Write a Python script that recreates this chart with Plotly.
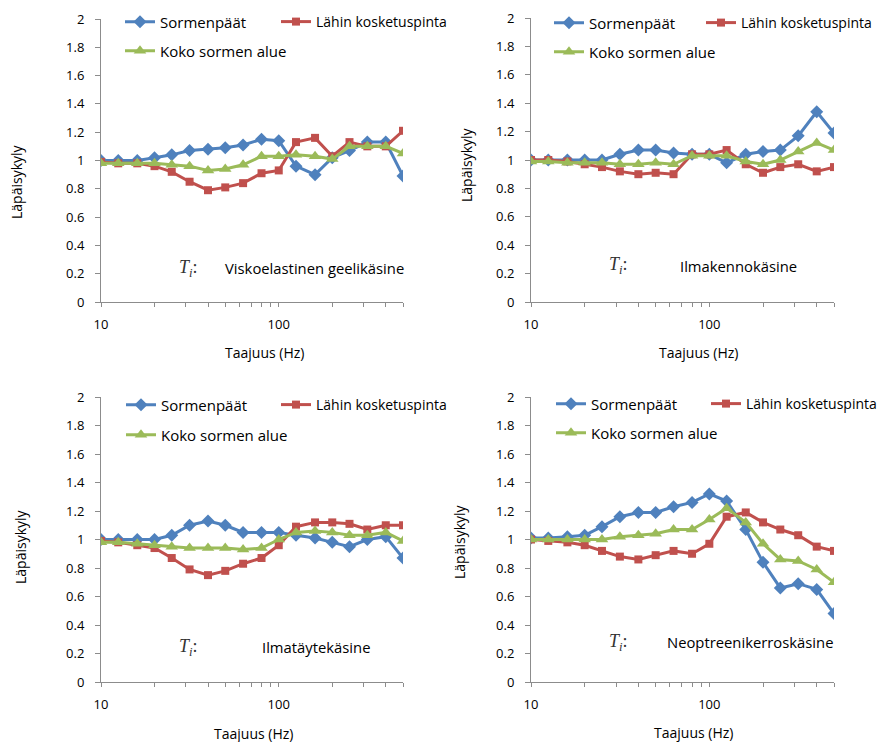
import plotly.graph_objects as go

# ---------------- data ----------------
freqs = [10, 12.5, 16, 20, 25, 31.5, 40, 50, 63, 80, 100, 125, 160, 200, 250, 315, 400, 500]

series_names = ["Sormenpäät", "Lähin kosketuspinta", "Koko sormen alue"]
glove_names = ["Viskoelastinen geelikäsine", "Ilmakennokäsine", "Ilmatäytekäsine", "Neoptreenikerroskäsine"]

p1_sormenpaat = [1.00, 1.00, 1.00, 1.02, 1.04, 1.07, 1.08, 1.09, 1.11, 1.15, 1.14, 0.96, 0.90, 1.02, 1.07, 1.13, 1.13, 0.89]
p1_lahin      = [0.99, 0.98, 0.98, 0.96, 0.92, 0.85, 0.79, 0.81, 0.84, 0.91, 0.93, 1.13, 1.16, 1.03, 1.13, 1.10, 1.10, 1.21]
p1_koko       = [0.98, 0.98, 0.98, 0.98, 0.97, 0.96, 0.93, 0.94, 0.97, 1.03, 1.03, 1.04, 1.03, 1.01, 1.10, 1.10, 1.10, 1.05]

p2_sormenpaat = [1.00, 1.00, 1.00, 1.00, 1.00, 1.04, 1.07, 1.07, 1.05, 1.04, 1.04, 0.98, 1.04, 1.06, 1.07, 1.17, 1.34, 1.19]
p2_lahin      = [1.00, 1.00, 0.99, 0.97, 0.95, 0.92, 0.90, 0.91, 0.90, 1.04, 1.04, 1.07, 0.97, 0.91, 0.95, 0.97, 0.92, 0.95]
p2_koko       = [0.99, 0.99, 0.98, 0.98, 0.98, 0.97, 0.97, 0.98, 0.97, 1.03, 1.03, 1.03, 0.99, 0.97, 1.00, 1.06, 1.12, 1.07]

p3_sormenpaat = [1.00, 1.00, 1.00, 1.00, 1.03, 1.10, 1.13, 1.10, 1.05, 1.05, 1.05, 1.03, 1.01, 0.98, 0.95, 1.00, 1.02, 0.87]
p3_lahin      = [0.99, 0.98, 0.96, 0.94, 0.87, 0.79, 0.75, 0.78, 0.83, 0.87, 0.96, 1.09, 1.12, 1.12, 1.11, 1.07, 1.10, 1.10]
p3_koko       = [0.98, 0.98, 0.97, 0.96, 0.95, 0.94, 0.94, 0.94, 0.93, 0.94, 1.00, 1.05, 1.06, 1.05, 1.03, 1.03, 1.05, 0.99]

p4_sormenpaat = [1.01, 1.01, 1.02, 1.03, 1.09, 1.16, 1.19, 1.19, 1.23, 1.26, 1.32, 1.27, 1.07, 0.84, 0.66, 0.69, 0.65, 0.48]
p4_lahin      = [1.00, 0.99, 0.98, 0.96, 0.92, 0.88, 0.86, 0.89, 0.92, 0.90, 0.97, 1.16, 1.19, 1.12, 1.07, 1.03, 0.95, 0.92]
p4_koko       = [1.00, 1.00, 1.00, 1.00, 1.00, 1.02, 1.03, 1.04, 1.07, 1.07, 1.14, 1.22, 1.12, 0.97, 0.86, 0.85, 0.79, 0.70]

panels = [
    (p1_sormenpaat, p1_lahin, p1_koko),
    (p2_sormenpaat, p2_lahin, p2_koko),
    (p3_sormenpaat, p3_lahin, p3_koko),
    (p4_sormenpaat, p4_lahin, p4_koko),
]

x_tickvals = [10, 100]
x_ticktext = ["10", "100"]
x_minor_tickvals = [20, 30, 40, 50, 60, 70, 80, 90, 200, 300, 400, 500]
y_tickvals = [0, 0.2, 0.4, 0.6, 0.8, 1, 1.2, 1.4, 1.6, 1.8, 2]
y_ticktext = ["0", "0.2", "0.4", "0.6", "0.8", "1", "1.2", "1.4", "1.6", "1.8", "2"]

x_title = "Taajuus (Hz)"
y_title = "Läpäisykyly"

# ---------------- styling / layout ----------------
W, H = 879, 742
FONT = "Open Sans"
colors = ["#4F81BD", "#C0504D", "#9BBB59"]
symbols = ["diamond", "square", "triangle-up"]
msizes = [10, 8, 11]
AXIS_COL = "#8C8C8C"
legend_font_sizes = [15, 14, 15]


def px(x):
    return x / W


def py(y):
    return 1 - y / H


# pixel boxes for each plot area: (left, right, top, bottom)
boxes = [(101, 403, 19, 302), (531, 834, 18, 302), (101, 403, 397, 682), (531, 834, 397, 682)]
# legend anchors: (row1 first icon x, row1 second icon x, row1 y, row2 y)
legend_pos = [(125, 281, 22, 51), (554, 706, 23, 52), (126, 281, 405, 435), (556, 711, 404, 433)]
# axis-title positions
xtitle_pos = [(264, 352), (698, 352), (253, 733), (693, 732)]
ytitle_pos = [(17, 182), (467, 165), (20, 547), (459, 542)]
# annotation positions (Ti x, text left x, y)
label_pos = [(188, 223, 268), (618, 678, 266), (188, 260, 647), (618, 665, 642)]

LEG_DX = 5  # icon offset inside a legend box

fig = go.Figure()
layout = dict(
    width=W, height=H,
    margin=dict(l=0, r=0, t=0, b=0, autoexpand=False),
    paper_bgcolor="white", plot_bgcolor="white",
    font=dict(family=FONT, size=13, color="#000000"),
    showlegend=True,
)
annotations = []

for i, (vals, box) in enumerate(zip(panels, boxes)):
    n = i + 1
    xa = "x" if n == 1 else f"x{n}"
    ya = "y" if n == 1 else f"y{n}"
    legs = ["legend" if i == 0 else f"legend{3 * i + 1}", f"legend{3 * i + 2}", f"legend{3 * i + 3}"]
    for j, (name, v) in enumerate(zip(series_names, vals)):
        fig.add_trace(go.Scatter(
            x=freqs, y=v, name=name, mode="lines+markers",
            line=dict(color=colors[j], width=3),
            marker=dict(symbol=symbols[j], size=msizes[j], color=colors[j]),
            xaxis=xa, yaxis=ya,
            legend=legs[j],
        ))
    l, r, t, b = box
    xkey = "xaxis" if n == 1 else f"xaxis{n}"
    ykey = "yaxis" if n == 1 else f"yaxis{n}"
    layout[xkey] = dict(
        type="log", range=[1, 2.69897], domain=[px(l), px(r)], anchor=ya,
        tickvals=x_tickvals, ticktext=x_ticktext, ticks="outside", ticklen=4,
        tickcolor=AXIS_COL, showline=True, linecolor=AXIS_COL, linewidth=1,
        showgrid=False, zeroline=False, tickfont=dict(size=13, color="#000"),
        ticklabelstandoff=6, tickangle=0,
        minor=dict(tickvals=x_minor_tickvals, ticks="outside", ticklen=4,
                   tickcolor=AXIS_COL, showgrid=False),
    )
    layout[ykey] = dict(
        range=[0, 2], domain=[py(b), py(t)], anchor=xa,
        tickvals=y_tickvals, ticktext=y_ticktext, ticks="outside", ticklen=5,
        tickcolor=AXIS_COL, showline=True, linecolor=AXIS_COL, linewidth=1,
        showgrid=False, zeroline=False, tickfont=dict(size=13, color="#000"),
        ticklabelstandoff=8,
    )
    x1, x2, r1, r2 = legend_pos[i]
    leg_xy = [(x1, r1), (x2, r1), (x1, r2)]
    for k in range(3):
        lx, ly = leg_xy[k]
        layout[legs[k]] = dict(
            x=px(lx - LEG_DX), y=py(ly), xanchor="left", yanchor="middle",
            orientation="h", bgcolor="rgba(0,0,0,0)", borderwidth=0,
            font=dict(size=legend_font_sizes[k], family=FONT),
            itemclick=False, itemdoubleclick=False,
        )
    tx, ty = xtitle_pos[i]
    annotations.append(dict(text=x_title, x=px(tx), y=py(ty), xref="paper", yref="paper",
                            showarrow=False, xanchor="center", yanchor="middle",
                            font=dict(size=14, family=FONT)))
    yx, yy = ytitle_pos[i]
    annotations.append(dict(text=y_title, x=px(yx), y=py(yy), xref="paper", yref="paper",
                            showarrow=False, xanchor="center", yanchor="middle", textangle=-90,
                            font=dict(size=14, family=FONT)))
    tix, txl, lyy = label_pos[i]
    annotations.append(dict(text="<i>T<sub>i</sub></i>:", x=px(tix), y=py(lyy), xref="paper", yref="paper",
                            showarrow=False, xanchor="center", yanchor="middle",
                            font=dict(size=18, family="Liberation Serif", color="#333")))
    annotations.append(dict(text=glove_names[i], x=px(txl), y=py(lyy), xref="paper", yref="paper",
                            showarrow=False, xanchor="left", yanchor="middle",
                            font=dict(size=14.8, family=FONT)))

layout["annotations"] = annotations
fig.update_layout(**layout)
fig.write_html("out.html")
